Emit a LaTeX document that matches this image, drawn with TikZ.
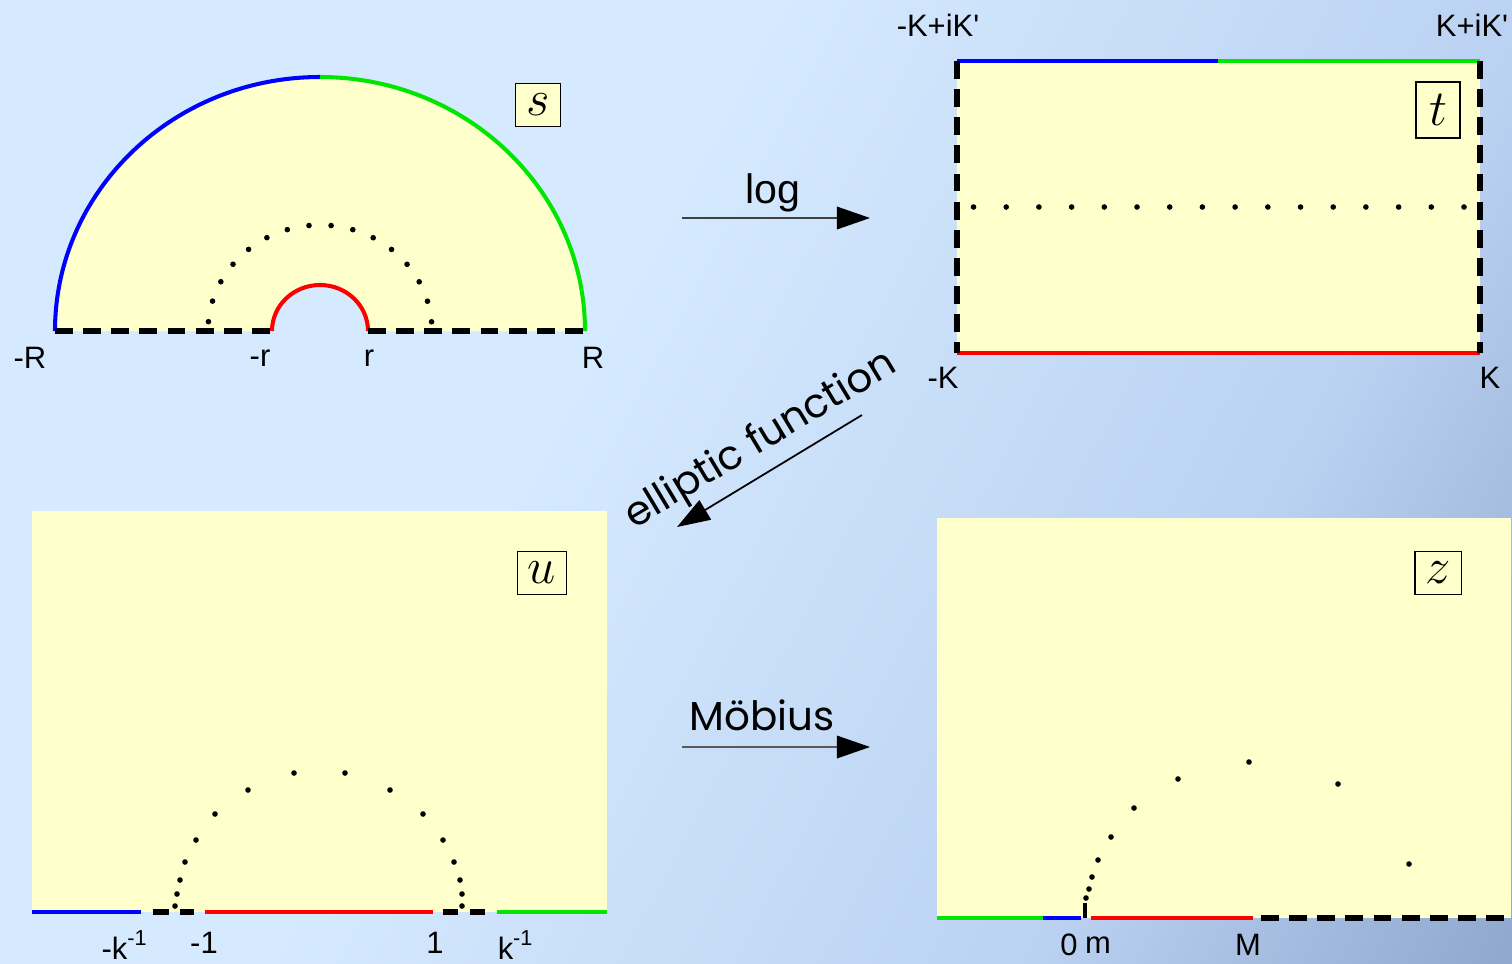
\documentclass[tikz,border=0pt]{standalone}
\usepackage{fontspec}
\setmainfont{Liberation Sans}
\newfontfamily\comicfont{Poppins}
\usetikzlibrary{arrows.meta,positioning,calc}
\definecolor{bgA}{RGB}{213,234,254}
\definecolor{bgB}{RGB}{186,209,242}
\definecolor{bgC}{RGB}{100,125,168}
\definecolor{paper}{RGB}{255,255,204}
\definecolor{cblue}{RGB}{0,0,255}
\definecolor{cgreen}{RGB}{0,230,0}
\definecolor{cred}{RGB}{255,0,0}
\pgfdeclarehorizontalshading{bgshade}{100bp}{color(0bp)=(bgA); color(42bp)=(bgA); color(68bp)=(bgB); color(100bp)=(bgC)}

\begin{document}
\begin{tikzpicture}[x=0.01cm,y=0.01cm,
every node/.style={font=\fontsize{8.8}{10}\selectfont,inner sep=0pt},
edge/.style={line width=1.15pt},
bnd/.style={line width=1.45pt,dash pattern=on 5.1pt off 2.9pt},
box/.style={draw,fill=paper,line width=0.4pt,inner sep=3pt,minimum width=0.44cm,minimum height=0.43cm,font=\fontsize{15}{16}\selectfont},
arr/.style={-{Triangle[length=9.4pt,width=6.4pt,color=black]},line width=0.5pt},
big/.style={font=\fontsize{11.7}{13}\selectfont},
comic/.style={font=\comicfont\fontsize{11.5}{13}\selectfont}]
\shade[shading=bgshade,shading angle=-28] (0,0) rectangle (1512,-963);
\useasboundingbox (0,0) rectangle (1512,-963);

% s plane
\fill[paper] (55,-331) arc[start angle=180,end angle=0,x radius=265,y radius=254]
  -- (368,-331) arc[start angle=0,end angle=180,x radius=48,y radius=46] -- cycle;
\draw[edge,cblue] (55,-331) arc[start angle=180,end angle=90,x radius=265,y radius=254];
\draw[edge,cgreen] (320,-77) arc[start angle=90,end angle=0,x radius=265,y radius=254];
\draw[edge,cred] (272,-331) arc[start angle=180,end angle=0,x radius=48,y radius=46];
\draw[bnd] (55,-331) -- (272,-331);
\draw[bnd] (368,-331) -- (585,-331);
\foreach \a in {0,...,15}
  \fill ({320+112*cos(5+11.33*\a)},{-331+106*sin(5+11.33*\a)}) circle (2.8);
\node (Rm) at (30,-358) {-R};
\node (rm) at (260,-358) {-r};
\node (rp) at (369,-358) {r};
\node (Rp) at (593,-358) {R};
\node[box] (S) at (538,-105) {$s$};

% t plane
\fill[paper] (957,-61) rectangle (1480,-353);
\draw[edge,cblue] (957,-61) -- (1218,-61);
\draw[edge,cgreen] (1218,-61) -- (1480,-61);
\draw[edge,cred] (957,-353) -- (1480,-353);
\draw[bnd] (957,-61) -- (957,-353);
\draw[bnd] (1480,-61) -- (1480,-353);
\foreach \i in {0,...,15}
  \fill ({973.5+32.7*\i},-207) circle (2.8);
\node (Ktl) at (938,-25) {-K+iK\textquotesingle};
\node (Ktr) at (1472,-25) {K+iK\textquotesingle};
\node (Kbl) at (943,-378) {-K};
\node (Kbr) at (1490,-378) {K};
\node[box,minimum height=0.56cm] (T) at (1438,-110) {$t$};

% u plane
\fill[paper] (32,-511) rectangle (607,-912);
\draw[edge,cblue] (32,-912) -- (141,-912);
\draw[edge,cred] (205,-912) -- (433,-912);
\draw[edge,cgreen] (497,-912) -- (607,-912);
\foreach \a/\b in {153/169,180/194,443/458,470/485}
  \draw[line width=1.45pt] (\a,-912) -- (\b,-912);
\foreach \x/\y in {175/906,177/894,180/880,185/862,196/840,215/814,248/790,294/773,
  345/773,390/790,423/814,443/840,454/862,460/880,462/894,462/906}
  \fill (\x,-\y) circle (2.8);
\node (kim) at (125,-945) {-k\textsuperscript{-1}};
\node (om) at (204,-943) {-1};
\node (op) at (435,-943) {1};
\node (kip) at (516,-945) {k\textsuperscript{-1}};
\node[box] (U) at (542,-573) {$u$};

% z plane
\fill[paper] (937,-518) rectangle (1511,-918);
\draw[edge,cgreen] (937,-918) -- (1043,-918);
\draw[edge,cblue] (1043,-918) -- (1081,-918);
\draw[line width=1pt] (1085,-903) -- (1085,-918);
\draw[edge,cred] (1091,-918) -- (1253,-918);
\draw[bnd] (1261,-918) -- (1511,-918);
\foreach \x/\y in {1086/898,1089/889,1092/877,1098/860,1111/837,1134/808,
  1178/779,1249/762,1338/784,1409/864}
  \fill (\x,-\y) circle (2.8);
\node (zero) at (1069,-945) {0};
\node (m) at (1098,-945) {m};
\node (M) at (1248,-945) {M};
\node[box] (Z) at (1438,-573) {$z$};

% maps
\coordinate (log1) at (682,-218);
\coordinate (log2) at (870,-218);
\draw[arr,black!75] (log1) -- (log2);
\node[big] (log) at (773,-193) {log};
\coordinate (ell1) at (862,-415);
\coordinate (ell2) at (677,-527);
\draw[arr] (ell1) -- (ell2);
\node[comic,rotate=31] (ell) at (761,-441) {elliptic function};
\coordinate (mob1) at (682,-747);
\coordinate (mob2) at (870,-747);
\draw[arr,black!65] (mob1) -- (mob2);
\node[comic] (mob) at (762,-715) {Möbius};
\end{tikzpicture}
\end{document}
